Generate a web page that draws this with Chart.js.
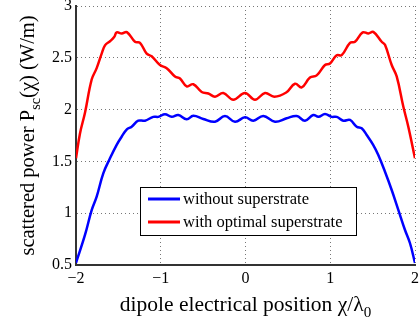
<!DOCTYPE html>
<html>
<head>
<meta charset="utf-8">
<script src="https://cdn.jsdelivr.net/npm/chart.js@4.4.1/dist/chart.umd.min.js"></script>
<style>
  html, body { margin: 0; padding: 0; background: #fff; }
  #wrap { width: 419px; height: 320px; position: relative; }
</style>
</head>
<body>
<div id="wrap"><canvas id="c"></canvas></div>
<script>
// Dipole position along the structure (in wavelengths) and scattered power (W/m)
const positionsNoSub = [
  -2.0, -1.894, -1.815, -1.756, -1.678, -1.599, -1.52, -1.46, -1.40, -1.343,
  -1.265, -1.186, -1.088, -1.029, -0.95, -0.871, -0.793, -0.694, -0.616, -0.498,
  -0.36, -0.242, -0.124, -0.006, 0.092, 0.21, 0.348, 0.486, 0.604, 0.702,
  0.80, 0.86, 0.938, 1.017, 1.076, 1.154, 1.233, 1.312, 1.371, 1.43,
  1.508, 1.567, 1.646, 1.725, 1.804, 1.882, 1.941, 2.0
];
const powerNoSub = [
  0.52, 0.79, 1.03, 1.16, 1.385, 1.53, 1.66, 1.74, 1.81, 1.835,
  1.893, 1.893, 1.93, 1.93, 1.955, 1.93, 1.948, 1.906, 1.94, 1.91,
  1.883, 1.938, 1.883, 1.925, 1.893, 1.938, 1.883, 1.916, 1.938, 1.893,
  1.948, 1.93, 1.957, 1.93, 1.93, 1.893, 1.90, 1.835, 1.82, 1.755,
  1.658, 1.562, 1.40, 1.224, 1.03, 0.838, 0.71, 0.52
];

const positionsOpt = [
  -2.0, -1.953, -1.894, -1.815, -1.756, -1.697, -1.658, -1.599, -1.55, -1.52,
  -1.46, -1.40, -1.304, -1.245, -1.166, -1.107, -1.009, -0.93, -0.832, -0.773,
  -0.694, -0.616, -0.517, -0.438, -0.36, -0.262, -0.144, -0.006, 0.112, 0.23,
  0.34, 0.48, 0.584, 0.663, 0.761, 0.84, 0.938, 0.997, 1.076, 1.135,
  1.233, 1.292, 1.383, 1.45, 1.508, 1.607, 1.646, 1.725, 1.784, 1.862,
  1.921, 2.0
];
const powerOpt = [
  1.53, 1.77, 1.97, 2.29, 2.40, 2.54, 2.62, 2.66, 2.70, 2.745,
  2.735, 2.748, 2.655, 2.645, 2.54, 2.515, 2.43, 2.40, 2.32, 2.30,
  2.225, 2.245, 2.17, 2.155, 2.125, 2.16, 2.095, 2.16, 2.095, 2.16,
  2.125, 2.165, 2.25, 2.215, 2.31, 2.33, 2.43, 2.445, 2.525, 2.525,
  2.645, 2.655, 2.745, 2.735, 2.75, 2.655, 2.625, 2.43, 2.32, 2.03,
  1.835, 1.53
];

const xTicks = [-2, -1, 0, 1, 2];
const yTicks = [0.5, 1, 1.5, 2, 2.5, 3];
const seriesLabels = ['without superstrate', 'with optimal superstrate'];
const seriesColors = ['#0000ff', '#ff0000'];

const SERIF = '"Liberation Serif", "DejaVu Serif", serif';

function toPoints(xs, ys) {
  return xs.map((x, i) => ({ x: x, y: ys[i] }));
}

// Draws a run of text pieces, some of them lowered as subscripts
function drawRich(ctx, parts, size, align) {
  let total = 0;
  const widths = parts.map(p => {
    ctx.font = (p.sub ? size * 0.7 : size) + 'px ' + SERIF;
    const w = ctx.measureText(p.t).width;
    total += w;
    return w;
  });
  let x = align === 'center' ? -total / 2 : 0;
  parts.forEach((p, i) => {
    ctx.font = (p.sub ? size * 0.7 : size) + 'px ' + SERIF;
    ctx.fillText(p.t, x, p.sub ? size * 0.3 : 0);
    x += widths[i];
  });
}

const axisTitles = {
  id: 'axisTitles',
  afterDraw(chart) {
    const { ctx, chartArea } = chart;
    ctx.save();
    ctx.fillStyle = '#000';
    ctx.textBaseline = 'alphabetic';
    ctx.textAlign = 'left';
    // horizontal title
    ctx.save();
    ctx.translate((chartArea.left + chartArea.right) / 2, 311);
    drawRich(ctx, [
      { t: 'dipole electrical position \u03C7/\u03BB' },
      { t: '0', sub: true }
    ], 21.5, 'center');
    ctx.restore();
    // vertical title
    ctx.save();
    ctx.translate(34, (chartArea.top + chartArea.bottom) / 2);
    ctx.rotate(-Math.PI / 2);
    drawRich(ctx, [
      { t: 'scattered power P' },
      { t: 'sc', sub: true },
      { t: '(\u03C7) (W/m)' }
    ], 20.5, 'center');
    ctx.restore();
    ctx.restore();
  }
};

const boxLegend = {
  id: 'boxLegend',
  afterDatasetsDraw(chart) {
    const { ctx } = chart;
    const left = 140, top = 187, w = 216, h = 48;
    ctx.save();
    ctx.fillStyle = '#fff';
    ctx.fillRect(left, top, w, h);
    ctx.strokeStyle = '#000';
    ctx.lineWidth = 1;
    ctx.strokeRect(left + 0.5, top + 0.5, w, h);
    ctx.font = '16.5px ' + SERIF;
    ctx.textBaseline = 'middle';
    ctx.textAlign = 'left';
    chart.data.datasets.forEach((ds, i) => {
      const y = top + 12 + i * 23;
      ctx.strokeStyle = ds.borderColor;
      ctx.lineWidth = 3;
      ctx.beginPath();
      ctx.moveTo(left + 8, y);
      ctx.lineTo(left + 40, y);
      ctx.stroke();
      ctx.fillStyle = '#000';
      ctx.fillText(ds.label, left + 43, y + 1);
    });
    ctx.restore();
  }
};

const fmt = v => (v < 0 ? '\u2212' + Math.abs(v) : String(v));

new Chart(document.getElementById('c'), {
  type: 'line',
  data: {
    datasets: [
      {
        label: seriesLabels[0],
        data: toPoints(positionsNoSub, powerNoSub),
        borderColor: seriesColors[0],
        borderWidth: 2.5,
        pointRadius: 0,
        tension: 0.4,
        fill: false
      },
      {
        label: seriesLabels[1],
        data: toPoints(positionsOpt, powerOpt),
        borderColor: seriesColors[1],
        borderWidth: 2.5,
        pointRadius: 0,
        tension: 0.4,
        fill: false
      }
    ]
  },
  options: {
    responsive: true,
    maintainAspectRatio: false,
    animation: false,
    layout: { padding: 0 },
    plugins: { legend: { display: false }, tooltip: { enabled: false } },
    scales: {
      x: {
        type: 'linear',
        min: -2,
        max: 2,
        afterBuildTicks: s => { s.ticks = xTicks.map(v => ({ value: v })); },
        afterFit: s => { s.height = 55; s.paddingLeft = 0; s.paddingRight = 4; },
        grid: { color: '#777', lineWidth: 1, drawTicks: false },
        border: { color: '#333', width: 2, dash: [1, 3] },
        ticks: {
          padding: 4,
          color: '#000',
          font: { family: SERIF, size: 16 },
          maxRotation: 0,
          callback: fmt
        }
      },
      y: {
        type: 'linear',
        min: 0.5,
        max: 3,
        afterBuildTicks: s => { s.ticks = yTicks.map(v => ({ value: v })); },
        afterFit: s => { s.width = 76; s.paddingTop = 6; s.paddingBottom = 0; },
        grid: { color: '#777', lineWidth: 1, drawTicks: false },
        border: { color: '#333', width: 2, dash: [1, 3] },
        ticks: {
          padding: 4,
          color: '#000',
          font: { family: SERIF, size: 16, lineHeight: 0.75 },
          callback: fmt
        }
      }
    }
  },
  plugins: [axisTitles, boxLegend]
});
</script>
</body>
</html>
